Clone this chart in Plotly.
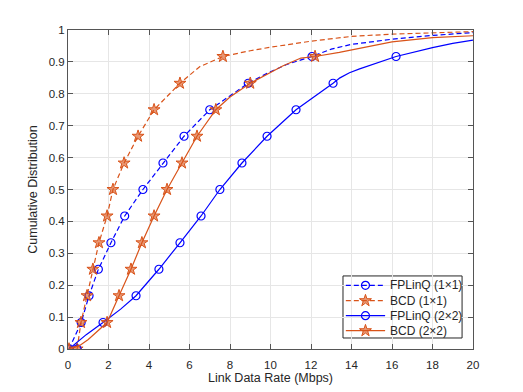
import plotly.graph_objects as go

# CDF levels where the markers sit
levels = [0, 0.083, 0.167, 0.25, 0.333, 0.417, 0.5, 0.583, 0.667, 0.75, 0.833, 0.917]

# marker positions (Mbps) at each level
fp11_mk = [0.05, 0.65, 1.04, 1.5, 2.12, 2.8, 3.7, 4.69, 5.73, 7.0, 8.9, 12.05]
bcd11_mk = [0.45, 0.64, 0.94, 1.23, 1.53, 1.93, 2.22, 2.77, 3.46, 4.25, 5.53, 7.65]
fp22_mk = [0.45, 1.73, 3.36, 4.49, 5.53, 6.57, 7.5, 8.59, 9.83, 11.26, 13.09, 16.2]
bcd22_mk = [0.05, 1.93, 2.52, 3.11, 3.65, 4.25, 4.89, 5.63, 6.37, 7.3, 9.0, 12.2]

# full curves
fp11_x = [0.05, 0.65, 1.04, 1.5, 2.12, 2.8, 3.7, 4.69, 5.73, 7.0, 8.0, 8.9, 9.83, 10.8, 12.05, 13.0, 14.0, 16.0, 18.0, 20.0]
fp11_y = [0, 0.083, 0.167, 0.25, 0.333, 0.417, 0.5, 0.583, 0.667, 0.75, 0.795, 0.833, 0.864, 0.892, 0.917, 0.94, 0.955, 0.971, 0.983, 0.992]

bcd11_x = [0.45, 0.64, 0.94, 1.23, 1.53, 1.93, 2.22, 2.77, 3.46, 4.25, 5.53, 6.5, 7.65, 9.0, 10.0, 12.0, 14.0, 16.0, 18.0, 20.0]
bcd11_y = [0, 0.083, 0.167, 0.25, 0.333, 0.417, 0.5, 0.583, 0.667, 0.75, 0.833, 0.885, 0.917, 0.935, 0.946, 0.965, 0.98, 0.987, 0.992, 0.995]

fp22_x = [0.05, 0.9, 1.73, 2.6, 3.36, 4.49, 5.53, 6.57, 7.5, 8.59, 9.83, 11.26, 13.09, 13.43, 13.9, 14.4, 16.2, 18.0, 19.0, 20.0]
fp22_y = [0, 0.045, 0.083, 0.125, 0.167, 0.25, 0.333, 0.417, 0.5, 0.583, 0.667, 0.75, 0.833, 0.85, 0.866, 0.878, 0.917, 0.945, 0.958, 0.968]

bcd22_x = [0.05, 0.6, 1.0, 1.5, 1.93, 2.52, 3.11, 3.65, 4.25, 4.89, 5.63, 6.37, 7.3, 8.0, 9.0, 10.6, 11.5, 12.2, 13.4, 14.4, 16.0, 18.0, 20.0]
bcd22_y = [0, 0.012, 0.03, 0.057, 0.083, 0.167, 0.25, 0.333, 0.417, 0.5, 0.583, 0.667, 0.75, 0.79, 0.833, 0.887, 0.912, 0.917, 0.93, 0.943, 0.963, 0.976, 0.982]

BLUE = "#0000FF"
ORANGE = "#D95319"
FONT = "Liberation Sans"
TXT = "#262626"

series = [
    ("FPLinQ (1\u00d71)", fp11_x, fp11_y, fp11_mk, BLUE, "5px,3px", "circle-open"),
    ("BCD (1\u00d71)", bcd11_x, bcd11_y, bcd11_mk, ORANGE, "5px,3px", "star"),
    ("FPLinQ (2\u00d72)", fp22_x, fp22_y, fp22_mk, BLUE, "solid", "circle-open"),
    ("BCD (2\u00d72)", bcd22_x, bcd22_y, bcd22_mk, ORANGE, "solid", "star"),
]

# MATLAB-like legend box, laid out in axis-domain fractions
leg_box = dict(x0=0.679, x1=0.973, y0=0.0345, y1=0.229)
leg_rows = [0.1997, 0.1515, 0.1044, 0.0574]
leg_line = (0.686, 0.783)
leg_mark = 0.7345
leg_text = 0.789

fig = go.Figure()
fig.add_shape(type="rect", xref="paper", yref="paper", layer="between",
              fillcolor="white", line=dict(color=TXT, width=1), **leg_box)

for i, (name, cx, cy, mk, col, dash, sym) in enumerate(series):
    if sym == "star":
        mstyle = dict(symbol=sym, size=9, color="rgba(217,83,25,0.6)", line=dict(color=col, width=1))
    else:
        mstyle = dict(symbol=sym, size=8, color=col, line=dict(color=col, width=1.2))
    fig.add_trace(go.Scatter(x=cx, y=cy, mode="lines", line=dict(color=col, width=1.2, dash=dash),
                             name=name, showlegend=False, hoverinfo="skip"))
    fig.add_trace(go.Scatter(x=mk, y=levels, mode="markers", marker=mstyle, name=name, showlegend=False))

    # legend row
    fig.add_shape(type="line", xref="paper", yref="paper", x0=leg_line[0], x1=leg_line[1],
                  y0=leg_rows[i], y1=leg_rows[i], line=dict(color=col, width=1.2, dash=dash))
    fig.add_trace(go.Scatter(x=[leg_mark], y=[leg_rows[i]], xaxis="x2", yaxis="y2", mode="markers",
                             marker=mstyle, showlegend=False, hoverinfo="skip", cliponaxis=False))
    fig.add_annotation(x=leg_text, y=leg_rows[i], xref="paper", yref="paper", xanchor="left",
                       yanchor="middle", text=name, showarrow=False,
                       font=dict(family=FONT, size=12, color=TXT))

axis_style = dict(showline=True, linecolor="#555555", linewidth=1, mirror="allticks",
                  ticks="inside", ticklen=5, tickcolor="#555555", showgrid=True,
                  gridcolor="#E6E6E6", gridwidth=1, zeroline=False, automargin=False,
                  tickfont=dict(family=FONT, size=11.5, color=TXT))

fig.update_xaxes(range=[0, 20], dtick=2, ticklabelstandoff=5,
                 title=dict(text="Link Data Rate (Mbps)", standoff=3,
                            font=dict(family=FONT, size=12.5, color=TXT)), **axis_style)
fig.update_yaxes(range=[0, 1], dtick=0.1, title=dict(text="Cumulative Distribution", standoff=8,
                 font=dict(family=FONT, size=12.5, color=TXT)), **axis_style)

fig.update_layout(
    width=515, height=384,
    margin=dict(l=60, r=50, t=22, b=43),
    plot_bgcolor="white", paper_bgcolor="white",
    showlegend=False,
    xaxis2=dict(overlaying="x", range=[0, 1], visible=False, fixedrange=True),
    yaxis2=dict(overlaying="y", range=[0, 1], visible=False, fixedrange=True),
)

fig.write_html("out.html")
